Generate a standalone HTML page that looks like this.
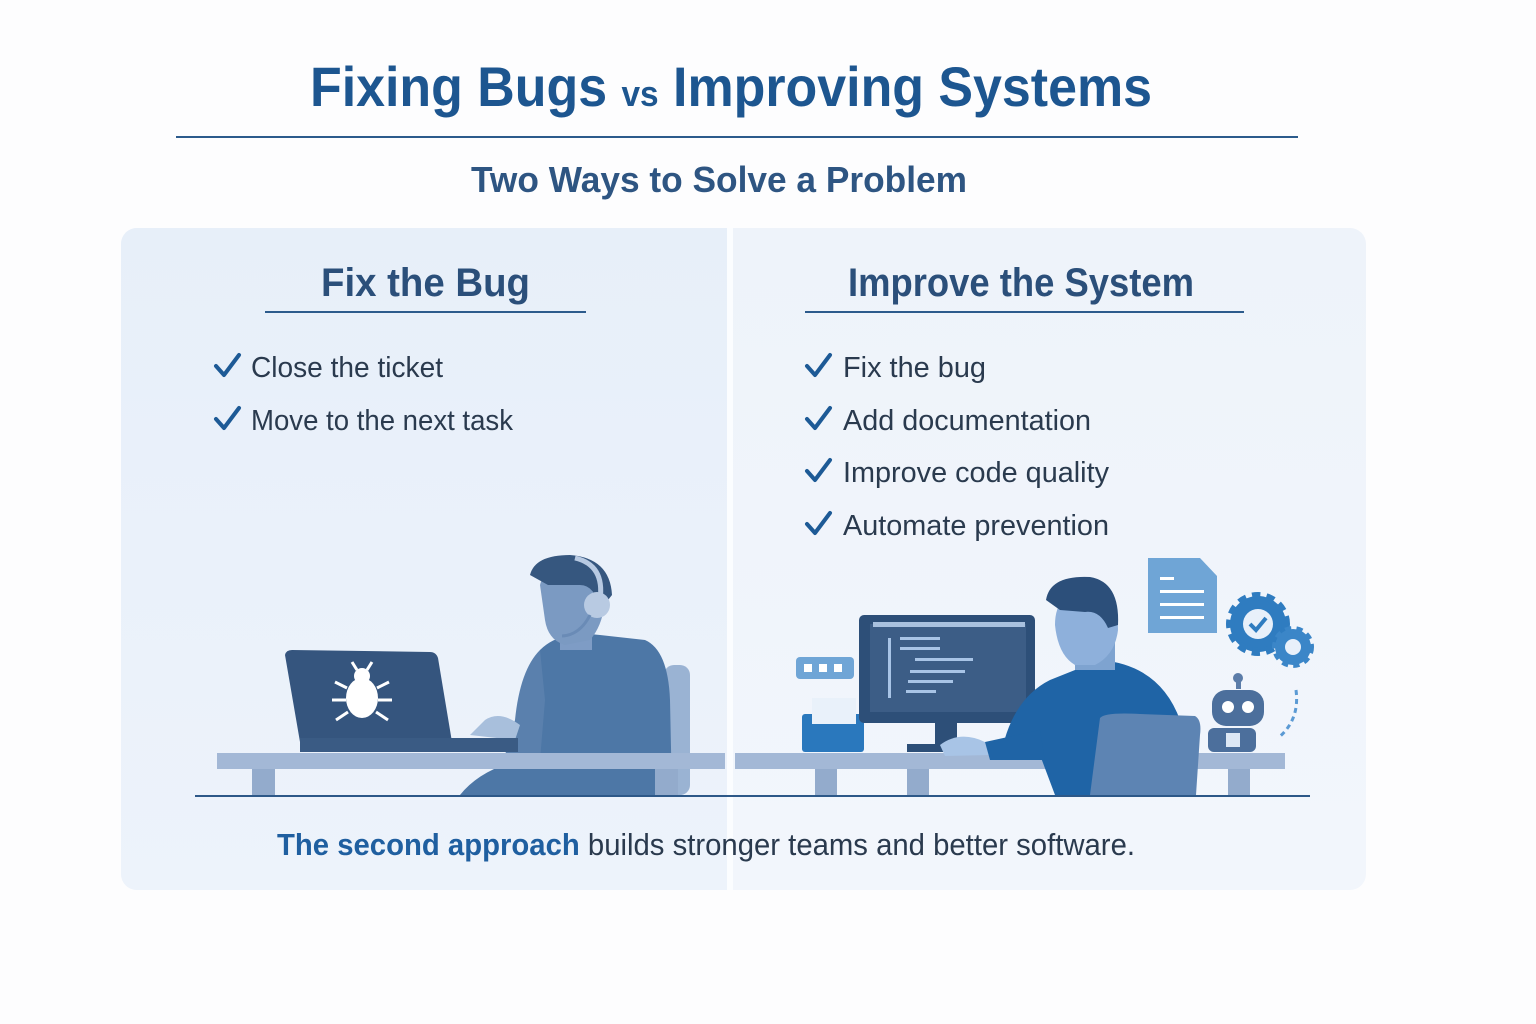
<!DOCTYPE html>
<html><head><meta charset="utf-8"><style>html,body{margin:0;padding:0;background:#fff}svg{display:block}</style></head><body>
<svg width="1536" height="1024" viewBox="0 0 1536 1024" xmlns="http://www.w3.org/2000/svg" font-family="Liberation Sans, sans-serif">
<defs>
<linearGradient id="lg" x1="0" y1="0" x2="0" y2="1"><stop offset="0" stop-color="#e7eff9"/><stop offset="1" stop-color="#edf3fb"/></linearGradient>
<linearGradient id="rg" x1="0" y1="0" x2="0" y2="1"><stop offset="0" stop-color="#eef3fa"/><stop offset="1" stop-color="#f2f6fc"/></linearGradient>
</defs>
<rect width="1536" height="1024" fill="#fdfdfe"/>
<text x="310" y="106" font-size="56" font-weight="bold" fill="#1d5690" textLength="842" lengthAdjust="spacingAndGlyphs">Fixing Bugs <tspan font-size="36">vs</tspan> Improving Systems</text>
<line x1="176" y1="137" x2="1298" y2="137" stroke="#2c5b8c" stroke-width="2"/>
<text x="471" y="192" font-size="36" font-weight="bold" fill="#2e5582" textLength="496" lengthAdjust="spacingAndGlyphs">Two Ways to Solve a Problem</text>
<rect x="121" y="228" width="1245" height="662" rx="16" fill="url(#rg)"/>
<path d="M137 228 H727 V890 H137 A16 16 0 0 1 121 874 V244 A16 16 0 0 1 137 228Z" fill="url(#lg)"/>
<rect x="727" y="228" width="6" height="662" fill="#fbfdff"/>
<text x="321" y="296" font-size="40" font-weight="bold" fill="#2b4f7a" textLength="209" lengthAdjust="spacingAndGlyphs">Fix the Bug</text>
<line x1="265" y1="312" x2="586" y2="312" stroke="#2c5b8c" stroke-width="2"/>
<text x="848" y="296" font-size="40" font-weight="bold" fill="#2b4f7a" textLength="346" lengthAdjust="spacingAndGlyphs">Improve the System</text>
<line x1="805" y1="312" x2="1244" y2="312" stroke="#2c5b8c" stroke-width="2"/>
<g fill="none" stroke="#1d5a96" stroke-width="4" stroke-linecap="round" stroke-linejoin="round">
<path d="M216 366 l8 9 l15 -20"/><path d="M216 419 l8 9 l15 -20"/>
<path d="M807 366 l8 9 l15 -20"/><path d="M807 419 l8 9 l15 -20"/><path d="M807 471 l8 9 l15 -20"/><path d="M807 524 l8 9 l15 -20"/>
</g>
<g font-size="29" fill="#2a3a4e">
<text x="251" y="377" textLength="192" lengthAdjust="spacingAndGlyphs">Close the ticket</text>
<text x="251" y="430" textLength="262" lengthAdjust="spacingAndGlyphs">Move to the next task</text>
<text x="843" y="377" textLength="143" lengthAdjust="spacingAndGlyphs">Fix the bug</text>
<text x="843" y="430" textLength="248" lengthAdjust="spacingAndGlyphs">Add documentation</text>
<text x="843" y="482" textLength="266" lengthAdjust="spacingAndGlyphs">Improve code quality</text>
<text x="843" y="535" textLength="266" lengthAdjust="spacingAndGlyphs">Automate prevention</text>
</g>
<!-- left illustration -->
<rect x="664" y="665" width="26" height="130" rx="10" fill="#9ab3d3"/>
<path d="M540 650 Q560 630 600 635 L645 640 Q668 650 670 700 L672 795 H460 Q480 770 520 760 Z" fill="#4d77a6"/>
<path d="M540 650 Q520 670 515 720 L505 755 L540 760 L545 700 Z" fill="#5a80ad"/>
<rect x="560" y="610" width="32" height="40" fill="#7e9cc5"/>
<path d="M540 585 Q545 565 575 565 Q605 570 605 600 Q603 625 590 640 L565 645 Q548 640 545 620 Z" fill="#7b9ac2"/>
<path d="M530 575 Q535 555 570 555 Q610 558 612 595 L600 610 Q595 585 580 585 L548 585 Z" fill="#36577f"/>
<path d="M575 558 Q605 565 600 600" fill="none" stroke="#b8cae2" stroke-width="5"/>
<circle cx="597" cy="605" r="13" fill="#b8cae2"/>
<path d="M590 615 Q580 635 562 636" fill="none" stroke="#6a8bb6" stroke-width="3"/>
<path d="M485 720 Q500 710 520 725 L515 740 L470 735 Z" fill="#a8bfdc"/>
<path d="M285 655 Q286 650 292 650 L430 652 Q436 652 438 658 L452 742 H300 Z" fill="#35557e"/>
<rect x="300" y="738" width="218" height="14" fill="#3a5b84"/>
<g fill="#ffffff"><ellipse cx="362" cy="698" rx="16" ry="20"/><circle cx="362" cy="676" r="8"/>
<g stroke="#fff" stroke-width="3" fill="none"><path d="M347 688 l-12 -6 M377 688 l12 -6 M346 700 l-14 0 M378 700 l14 0 M348 712 l-12 8 M376 712 l12 8 M357 670 l-5 -8 M367 670 l5 -8"/></g></g>
<rect x="217" y="753" width="508" height="16" fill="#a3b8d6"/>
<rect x="252" y="769" width="23" height="26" fill="#93abcc"/>
<rect x="655" y="769" width="23" height="26" fill="#93abcc"/>
<!-- right illustration -->
<rect x="735" y="753" width="550" height="16" fill="#a3b8d6"/>
<rect x="815" y="769" width="22" height="26" fill="#93abcc"/>
<rect x="907" y="769" width="22" height="26" fill="#93abcc"/>
<rect x="1228" y="769" width="22" height="26" fill="#93abcc"/>
<rect x="796" y="657" width="58" height="22" rx="4" fill="#6fa5d6"/>
<g fill="#fff"><rect x="804" y="664" width="8" height="8"/><rect x="819" y="664" width="8" height="8"/><rect x="834" y="664" width="8" height="8"/></g>
<rect x="802" y="714" width="62" height="38" rx="3" fill="#2a78bd"/>
<rect x="812" y="698" width="44" height="26" fill="#e9f1fa"/>
<rect x="859" y="615" width="176" height="108" rx="5" fill="#2d4f78"/>
<rect x="870" y="624" width="156" height="88" fill="#3c5d86"/>
<rect x="873" y="622" width="152" height="5" fill="#a9c1de"/>
<g fill="#a8c4e6"><rect x="888" y="638" width="3" height="60"/><rect x="900" y="637" width="40" height="3"/><rect x="900" y="647" width="40" height="3"/><rect x="915" y="658" width="58" height="3"/><rect x="910" y="670" width="55" height="3"/><rect x="908" y="680" width="45" height="3"/><rect x="906" y="690" width="30" height="3"/></g>
<rect x="935" y="722" width="22" height="25" fill="#2d4f78"/>
<rect x="907" y="744" width="60" height="8" fill="#2d4f78"/>
<path d="M1000 760 Q1010 700 1050 680 L1100 660 Q1160 665 1180 720 L1185 795 H1055 L1040 755 Z" fill="#1f64a6"/>
<path d="M940 745 Q960 730 985 742 L990 755 L945 756 Z" fill="#a8c4e6"/>
<path d="M985 742 L1040 730 L1045 760 L990 760 Z" fill="#1f64a6"/>
<rect x="1075" y="630" width="40" height="40" fill="#7ea3d0"/>
<path d="M1055 625 Q1055 590 1090 590 Q1118 595 1118 630 Q1115 655 1095 665 L1075 665 Q1058 655 1055 625 Z" fill="#8eb0db"/>
<path d="M1046 600 Q1050 575 1090 577 Q1120 582 1118 625 L1108 628 Q1100 610 1085 612 L1060 610 Z" fill="#2c4f7a"/>
<path d="M1100 718 Q1105 712 1140 714 L1195 716 Q1202 720 1200 735 L1196 795 H1090 Z" fill="#5d84b3"/>
<path d="M1148 558 H1200 L1217 576 V633 H1148 Z" fill="#6fa5d6"/>
<g fill="#fff"><rect x="1160" y="577" width="14" height="3"/><rect x="1160" y="590" width="44" height="3"/><rect x="1160" y="603" width="44" height="3"/><rect x="1160" y="616" width="44" height="3"/></g>
<circle cx="1258" cy="624" r="28" fill="#2f7cc0" stroke="#2f7cc0" stroke-width="8" stroke-dasharray="8 6"/>
<circle cx="1258" cy="624" r="15" fill="#e8f0fa"/>
<path d="M1250 624 l6 6 l10 -12" fill="none" stroke="#2f7cc0" stroke-width="4"/>
<circle cx="1293" cy="647" r="18" fill="#3b86c8" stroke="#3b86c8" stroke-width="6" stroke-dasharray="6 5"/>
<circle cx="1293" cy="647" r="8" fill="#e8f0fa"/>
<rect x="1236" y="675" width="5" height="14" fill="#5b7ca8"/><circle cx="1238" cy="678" r="5" fill="#5b7ca8"/>
<rect x="1212" y="690" width="52" height="36" rx="14" fill="#4c6f9c"/>
<circle cx="1228" cy="707" r="6" fill="#fff"/><circle cx="1248" cy="707" r="6" fill="#fff"/>
<rect x="1208" y="728" width="48" height="24" rx="6" fill="#4c6f9c"/>
<rect x="1226" y="733" width="14" height="14" fill="#dde8f5"/>
<path d="M1296 690 Q1300 720 1278 738" fill="none" stroke="#5b9ad4" stroke-width="3" stroke-dasharray="5 4"/>
<line x1="195" y1="796" x2="1310" y2="796" stroke="#2d5888" stroke-width="2"/>
<text x="277" y="855" font-size="31" fill="#2a3a4e" textLength="858" lengthAdjust="spacingAndGlyphs"><tspan font-weight="bold" fill="#1f5fa0">The second approach</tspan> builds stronger teams and better software.</text>
</svg>
</body></html>
